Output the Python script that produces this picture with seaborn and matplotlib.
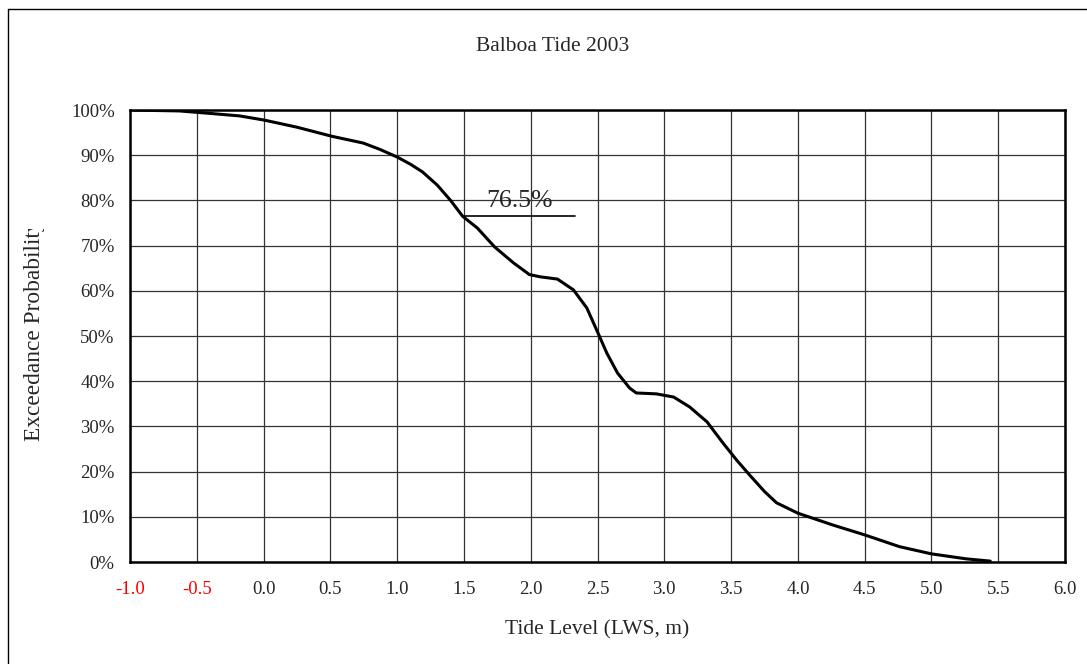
import numpy as np
import pandas as pd
import matplotlib
matplotlib.use("Agg")
import matplotlib.pyplot as plt
import seaborn as sns
from matplotlib.patches import Rectangle
from matplotlib.ticker import PercentFormatter

# values
tide_level = [-1.0, -0.63, -0.42, -0.18, 0.0, 0.25, 0.51, 0.745, 0.87, 1.0, 1.1, 1.19,
              1.3, 1.4, 1.49, 1.6, 1.73, 1.87, 1.99, 2.07, 2.2, 2.32, 2.42, 2.5,
              2.57, 2.65, 2.74, 2.79, 2.94, 3.07, 3.19, 3.32, 3.44, 3.54, 3.64, 3.75,
              3.84, 4.0, 4.26, 4.5, 4.76, 5.0, 5.26, 5.44]
exceedance = [100.0, 99.8, 99.3, 98.7, 97.8, 96.2, 94.2, 92.7, 91.3, 89.6, 88.0, 86.3,
              83.4, 80.0, 76.5, 73.9, 69.7, 66.2, 63.6, 63.1, 62.6, 60.2, 56.2, 50.9,
              46.2, 41.8, 38.5, 37.4, 37.2, 36.5, 34.3, 31.0, 26.3, 22.6, 19.2, 15.6,
              13.1, 10.8, 8.2, 6.0, 3.4, 1.8, 0.7, 0.2]
marked_value = 76.5
marked_x = [1.5, 2.33]

x_ticks = np.arange(-1.0, 6.01, 0.5)
y_ticks = np.arange(0, 101, 10)

df = pd.DataFrame({"Tide Level": tide_level, "Exceedance": exceedance})

sns.set_style("white")
plt.rcParams["font.family"] = ["Liberation Serif", "DejaVu Serif"]

fig = plt.figure(figsize=(10.87, 6.64), dpi=100)
ax = fig.add_axes([0.1196, 0.1536, 0.8602, 0.6807])

sns.lineplot(data=df, x="Tide Level", y="Exceedance", ax=ax, color="black", lw=2.2)

# annotation line and label
ax.plot(marked_x, [marked_value, marked_value], color="black", lw=1.2)
ax.text(np.mean(marked_x), marked_value + 1.0, f"{marked_value}%", ha="center",
        va="bottom", fontsize=18.5)

ax.set_xlim(-1.0, 6.0)
ax.set_ylim(0, 100)
ax.set_xticks(x_ticks)
ax.set_yticks(y_ticks)
ax.set_xticklabels([f"{v:.1f}" for v in x_ticks])
ax.yaxis.set_major_formatter(PercentFormatter(decimals=0))
for lab, v in zip(ax.get_xticklabels(), x_ticks):
    if v < 0:
        lab.set_color("red")

ax.grid(True, color="#333333", lw=0.9)
ax.tick_params(direction="in", length=6, width=1.5, labelsize=13.5)
ax.tick_params(axis="x", pad=14)
ax.tick_params(axis="y", pad=11)
for s in ax.spines.values():
    s.set_color("black")
    s.set_linewidth(1.8)

ax.set_xlabel("Tide Level (LWS, m)", fontsize=15.5, labelpad=16)
ax.set_ylabel("Exceedance Probability", fontsize=16.8)
ax.yaxis.set_label_coords(-0.091, 0.512)

fig.text(0.508, 0.93, "Balboa Tide 2003", ha="center", va="center", fontsize=15.5)

# outer chart frame (left and top edges visible)
fig.add_artist(plt.Line2D([0.0075, 0.0075], [0, 0.987], transform=fig.transFigure,
                          color="black", lw=1))
fig.add_artist(plt.Line2D([0.0075, 1.0], [0.987, 0.987], transform=fig.transFigure,
                          color="black", lw=1))

# the source cuts off the top end of the y label
fig.add_artist(Rectangle((28 / 1087, 1 - 229 / 664), 34 / 1087, 22 / 664,
                         transform=fig.transFigure, facecolor="white",
                         edgecolor="none", zorder=10))

fig.savefig("out.png", dpi=100)
